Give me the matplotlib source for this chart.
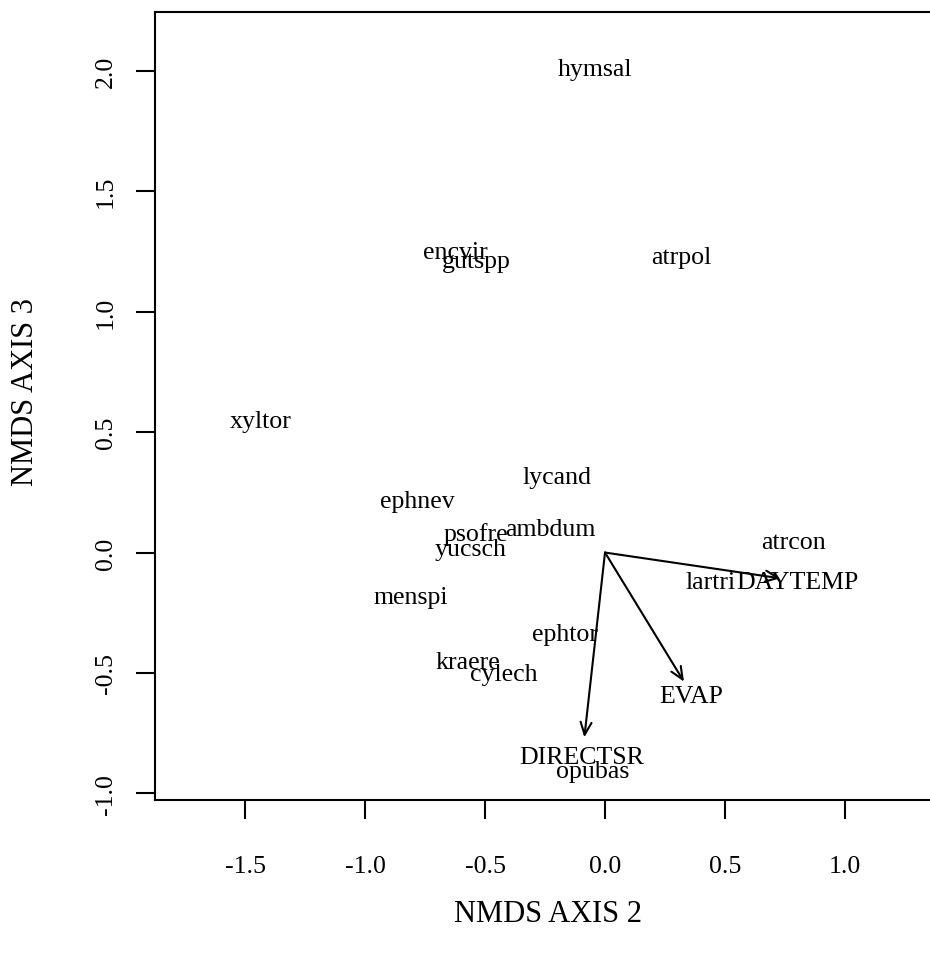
import matplotlib
matplotlib.use("Agg")
import matplotlib.pyplot as plt

species = ["hymsal", "encvir", "gutspp", "atrpol", "xyltor", "lycand", "ephnev",
           "psofre", "ambdum", "yucsch", "atrcon", "lartri", "menspi", "ephtor",
           "kraere", "cylech", "opubas"]
sp_x = [-0.04, -0.624, -0.535, 0.319, -1.435, -0.199, -0.78,
        -0.536, -0.226, -0.562, 0.787, 0.438, -0.81, -0.167,
        -0.571, -0.42, -0.052]
sp_y = [2.007, 1.247, 1.21, 1.227, 0.546, 0.313, 0.214,
        0.077, 0.098, 0.015, 0.044, -0.122, -0.185, -0.338,
        -0.455, -0.504, -0.906]

env_names = ["DAYTEMP", "EVAP", "DIRECTSR"]
env_x = [0.731, 0.329, -0.086]
env_y = [-0.107, -0.536, -0.767]
env_lab_x = [0.80, 0.358, -0.096]
env_lab_y = [-0.122, -0.594, -0.850]

xticks = [-1.5, -1.0, -0.5, 0.0, 0.5, 1.0]
yticks = [-1.0, -0.5, 0.0, 0.5, 1.0, 1.5, 2.0]

font = "Liberation Serif"
fs = 18.6
fs_lab = 22

fig = plt.figure(figsize=(9.3, 9.54), dpi=100)
ax = fig.add_axes([155/930, 1 - 800.7/954, (941 - 155)/930, (800.7 - 13)/954])
ax.set_xlim(-1.875, 1.4)
ax.set_ylim(-1.026, 2.244)

for n, x, y in zip(species, sp_x, sp_y):
    ax.text(x, y, n, ha="center", va="center", family=font, fontsize=fs)

for n, x, y, lx, ly in zip(env_names, env_x, env_y, env_lab_x, env_lab_y):
    ax.annotate("", xy=(x, y), xytext=(0, 0),
                arrowprops=dict(arrowstyle="->,head_length=0.5,head_width=0.22",
                                lw=1.5, color="black", shrinkA=0, shrinkB=0,
                                mutation_scale=18))
    ax.text(lx, ly, n, ha="center", va="center", family=font, fontsize=fs)

ax.set_xticks(xticks)
ax.set_xticklabels([f"{v:.1f}" for v in xticks], family=font, fontsize=fs)
ax.set_yticks(yticks)
ax.set_yticklabels([f"{v:.1f}" for v in yticks], family=font, fontsize=fs,
                   rotation=90, va="center")
ax.tick_params(axis="both", length=13.7, width=1.5, direction="out")
ax.tick_params(axis="x", pad=26)
ax.tick_params(axis="y", pad=14)
for s in ax.spines.values():
    s.set_linewidth(1.5)

ax.set_xlabel("NMDS AXIS 2", family=font, fontsize=fs_lab, va="center")
ax.set_ylabel("NMDS AXIS 3", family=font, fontsize=fs_lab, va="center")
ax.xaxis.set_label_coords(0.5, (800.7 - 915) / 787.7)
ax.yaxis.set_label_coords((26 - 155) / 786, (800.7 - 392) / 787.7)

fig.savefig("out.png", dpi=100)
